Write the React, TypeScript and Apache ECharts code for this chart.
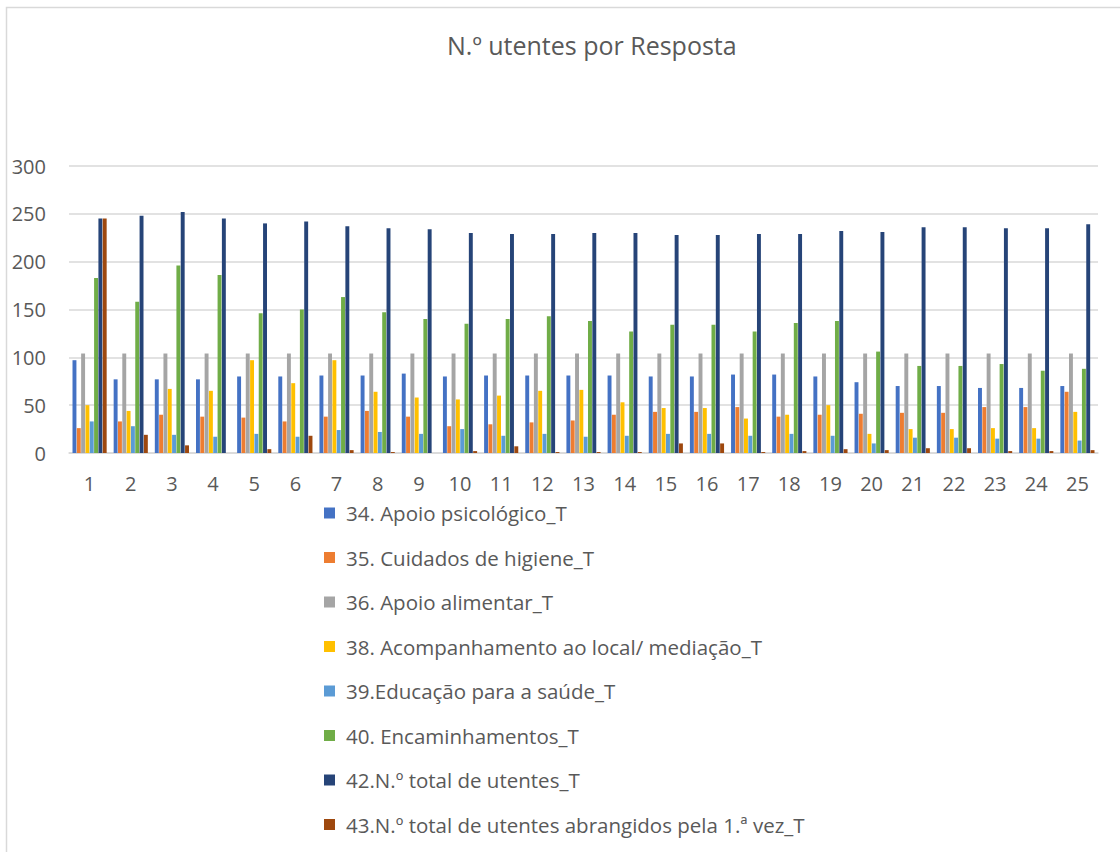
import React, { useEffect, useRef } from "react";
import * as echarts from "echarts";

const categories = Array.from({ length: 25 }, (_, i) => String(i + 1));

const seriesNames = [
  "34. Apoio psicológico_T",
  "35. Cuidados de higiene_T",
  "36. Apoio alimentar_T",
  "38. Acompanhamento ao local/ mediação_T",
  "39.Educação para a saúde_T",
  "40. Encaminhamentos_T",
  "42.N.º total de utentes_T",
  "43.N.º total de utentes abrangidos pela 1.ª vez_T",
];

const colors = ["#4472C4", "#ED7D31", "#A5A5A5", "#FFC000", "#5B9BD5", "#70AD47", "#264478", "#9E480E"];

const apoioPsicologico = [97, 77, 77, 77, 80, 80, 81, 81, 83, 80, 81, 81, 81, 81, 80, 80, 82, 82, 80, 74, 70, 70, 68, 68, 70];
const cuidadosHigiene = [26, 33, 40, 38, 37, 33, 38, 44, 38, 28, 30, 32, 34, 40, 43, 43, 48, 38, 40, 41, 42, 42, 48, 48, 64];
const apoioAlimentar = [104, 104, 104, 104, 104, 104, 104, 104, 104, 104, 104, 104, 104, 104, 104, 104, 104, 104, 104, 104, 104, 104, 104, 104, 104];
const acompanhamento = [50, 44, 67, 65, 97, 73, 97, 64, 58, 56, 60, 65, 66, 53, 47, 47, 36, 40, 50, 20, 25, 25, 26, 26, 43];
const educacaoSaude = [33, 28, 19, 17, 20, 17, 24, 22, 20, 25, 18, 20, 17, 18, 20, 20, 18, 20, 18, 10, 16, 16, 15, 15, 13];
const encaminhamentos = [183, 158, 196, 186, 146, 150, 163, 147, 140, 135, 140, 143, 138, 127, 134, 134, 127, 136, 138, 106, 91, 91, 93, 86, 88];
const totalUtentes = [245, 248, 252, 245, 240, 242, 237, 235, 234, 230, 229, 229, 230, 230, 228, 228, 229, 229, 232, 231, 236, 236, 235, 235, 239];
const primeiraVez = [245, 19, 8, 0, 4, 18, 3, 1, 0, 2, 7, 1, 1, 1, 10, 10, 1, 2, 4, 3, 5, 5, 2, 2, 3];

const seriesValues = [
  apoioPsicologico,
  cuidadosHigiene,
  apoioAlimentar,
  acompanhamento,
  educacaoSaude,
  encaminhamentos,
  totalUtentes,
  primeiraVez,
];

const yTicks = { min: 0, max: 300, interval: 50 };

const FONT = "'Open Sans', 'Noto Sans', sans-serif";

export default function App() {
  const ref = useRef<HTMLDivElement>(null);
  useEffect(() => {
    if (!ref.current) return;
    const chart = echarts.init(ref.current, undefined, { renderer: "svg" });
    chart.setOption({
      animation: false,
      backgroundColor: "#ffffff",
      color: colors,
      title: {
        text: "N.º utentes por Resposta",
        left: 442,
        top: 27,
        textStyle: { fontFamily: FONT, fontSize: 25, fontWeight: "normal", color: "#595959" },
      },
      graphic: [
        {
          type: "rect",
          shape: { x: 6.5, y: 7.5, width: 1300, height: 1000 },
          style: { fill: "none", stroke: "#d9d9d9", lineWidth: 1.5 },
          silent: true,
        },
      ],
      legend: {
        orient: "vertical",
        left: 319,
        top: 496,
        itemWidth: 11,
        itemHeight: 11,
        itemGap: 20.5,
        icon: "rect",
        textStyle: {
          fontFamily: FONT,
          fontSize: 20.5,
          color: "#595959",
          lineHeight: 24,
          padding: [0, 0, 0, 6],
        },
        data: seriesNames,
      },
      grid: { left: 69, right: 22, top: 166, bottom: 399, containLabel: false },
      xAxis: {
        type: "category",
        data: categories,
        axisLine: { show: true, lineStyle: { color: "#d9d9d9", width: 1.5 } },
        axisTick: { show: false },
        axisLabel: { fontFamily: FONT, fontSize: 20, color: "#595959", margin: 20 },
      },
      yAxis: {
        type: "value",
        min: yTicks.min,
        max: yTicks.max,
        interval: yTicks.interval,
        axisLine: { show: false },
        axisTick: { show: false },
        splitLine: { lineStyle: { color: "#d9d9d9", width: 1.5 } },
        axisLabel: { fontFamily: FONT, fontSize: 20, color: "#595959", margin: 23 },
      },
      series: seriesNames.map((name, i) => ({
        name,
        type: "bar",
        data: seriesValues[i],
        barGap: "10%",
        barCategoryGap: "17%",
        itemStyle: { color: colors[i] },
      })),
    });
    return () => chart.dispose();
  }, []);
  return (
    <div
      ref={ref}
      style={{ position: "absolute", left: 0, top: 0, width: 1120, height: 852 }}
    />
  );
}
